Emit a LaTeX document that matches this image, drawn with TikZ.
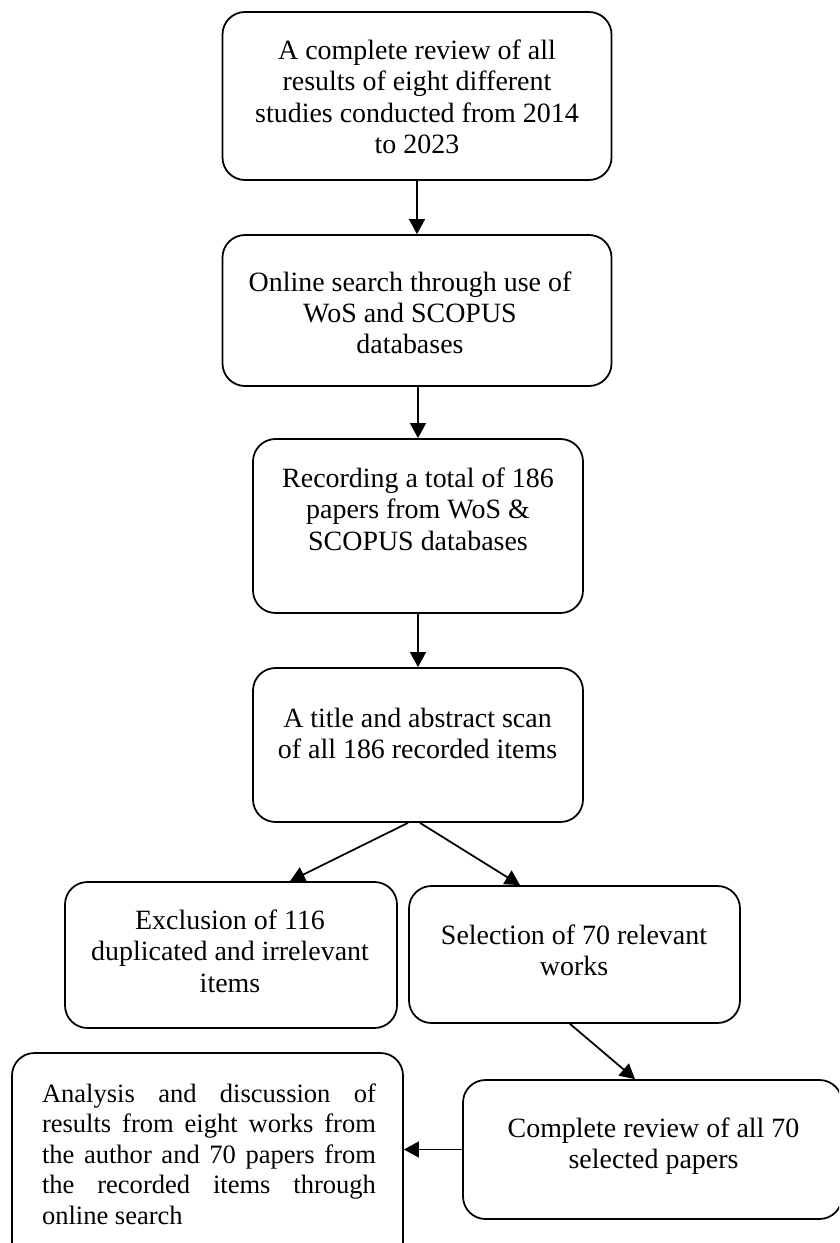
\documentclass[tikz,border=0pt]{standalone}
\usepackage{fontspec}
\setmainfont{Liberation Serif}
\usepackage{tikz}
\usetikzlibrary{calc,arrows.meta}
\tikzset{
  box/.style={draw=black, line width=1pt, rounded corners=0.45cm, inner sep=0pt},
  txt/.style={anchor=north, align=center, inner sep=0pt, font=\fontsize{15.9}{17.9}\selectfont},
  txtj/.style={anchor=north, align=justify, inner sep=0pt, font=\fontsize{15.1}{17.3}\selectfont},
  arr/.style={draw=black, line width=1pt, -{Triangle[length=8.5pt,width=9pt]}},
}

\begin{document}
\begin{tikzpicture}[x=0.02cm,y=-0.02cm]
  \def\u{0.02cm}
  \useasboundingbox (0,0) rectangle (839,1243);
  \clip (0,0) rectangle (839,1243);

  \node[box,minimum width=389*\u,minimum height=168*\u] (b1) at (417,96) {};
  \node[box,minimum width=389*\u,minimum height=151*\u] (b2) at (417,310.5) {};
  \node[box,minimum width=330*\u,minimum height=174*\u] (b3) at (418,526) {};
  \node[box,minimum width=330*\u,minimum height=154*\u] (b4) at (418,745) {};
  \node[box,minimum width=332*\u,minimum height=146*\u] (b5) at (231,955) {};
  \node[box,minimum width=331*\u,minimum height=137*\u] (b6) at (574.5,954.5) {};
  \node[box,minimum width=379*\u,minimum height=139*\u] (b7) at (652.5,1149.5) {};
  \node[box,minimum width=391*\u,minimum height=222*\u] (b8) at (207.5,1164) {};

  \node[txt] (t1) at (417,39.5) {A complete review of all\\results of eight different\\studies conducted from 2014\\to 2023};
  \node[txt] (t2) at (410,271) {Online search through use of\\WoS and SCOPUS\\databases};
  \node[txt] (t3) at (418,467.5) {Recording a total of 186\\papers from WoS \&\\SCOPUS databases};
  \node[txt] (t4) at (417.5,707.5) {A title and abstract scan\\of all 186 recorded items};
  \node[txt] (t5) at (230,909.5) {Exclusion of 116\\duplicated and irrelevant\\items};
  \node[txt] (t6) at (574,924.5) {Selection of 70 relevant\\works};
  \node[txt] (t7) at (653.5,1117.5) {Complete review of all 70\\selected papers};
  \node[txtj,text width=6.68cm] (t8) at (209,1083.5) {Analysis and discussion of\linebreak results from eight works from\linebreak the author and 70 papers from\linebreak the recorded items through\linebreak online search};

  \draw[arr] (b1.south) -- (b2.north);
  \draw[arr] (b3.north |- b2.south) -- (b3.north);
  \draw[arr] (b3.south) -- (b4.north);
  \draw[arr] ($(b4.south)+(-10,0)$) -- ($(b5.north)+(59,0)$);
  \draw[arr] ($(b4.south)+(2,0)$) -- ($(b6.north)+(-54.5,0)$);
  \draw[arr] ($(b6.south)+(-4.5,0)$) -- ($(b7.north)+(-17.5,0)$);
  \draw[arr] (b7.west) -- (b7.west -| b8.east);
\end{tikzpicture}
\end{document}
